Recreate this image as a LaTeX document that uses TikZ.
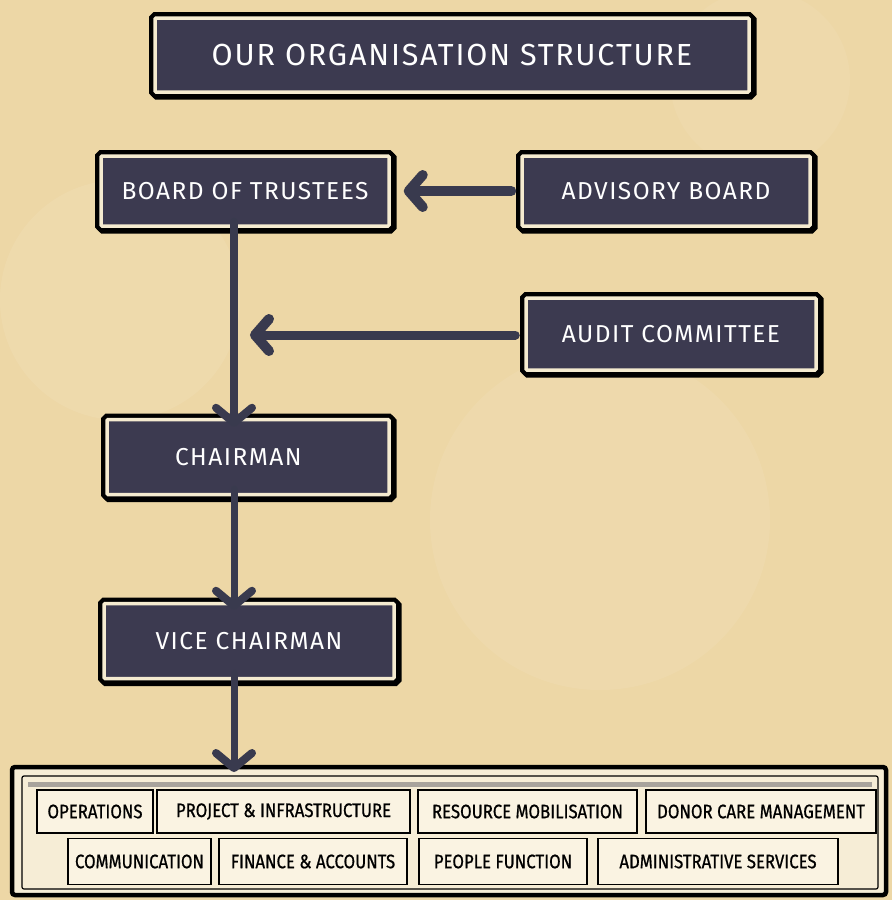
\documentclass[tikz,border=0pt]{standalone}
\usepackage{fontspec}
\setmainfont{Fira Sans}
\newfontfamily\widefont[LetterSpace=6]{Fira Sans}
\newfontfamily\narrowfont[FakeStretch=0.86,FakeBold=0.8]{Fira Sans}
\usetikzlibrary{arrows.meta}
\definecolor{bgtan}{HTML}{EDD7A6}
\definecolor{slate}{HTML}{3C3A50}
\definecolor{cream}{HTML}{F5EBD0}
\definecolor{inkline}{HTML}{393A4E}
\definecolor{cellfill}{HTML}{FAF3E2}
\definecolor{panelfill}{HTML}{F6EDD6}
\definecolor{stripgray}{HTML}{A8A39C}
\begin{document}
\begin{tikzpicture}[x=1pt,y=-1pt,
  chalk/.style={
    preaction={draw=black, line width=12pt, transform canvas={shift={(1.5pt,-1.5pt)}}},
    preaction={draw=black, line width=12pt},
    draw=cream, line width=3.5pt, fill=slate, text=white,
    inner sep=0pt, rounded corners=1pt},
  boxfont/.style={font=\widefont\fontsize{24.5}{27}\selectfont},
  cell/.style={draw=black, line width=1.6pt, fill=cellfill, inner sep=0pt,
    font=\narrowfont\fontsize{19.5}{21}\selectfont},
  flowv/.style={draw=inkline, line width=8pt, line cap=round,
    -{Straight Barb[length=15pt,width=36pt,line width=8pt,round]}},
  flowh/.style={draw=inkline, line width=10pt, line cap=round,
    -{Straight Barb[length=14pt,width=32pt,line width=10pt,round]}}
]
% background
\fill[bgtan] (0,0) rectangle (892,900);
\useasboundingbox (0,0) rectangle (892,900);
\fill[white, opacity=0.08] (120,300) circle (120pt);
\fill[white, opacity=0.07] (600,520) circle (170pt);
\fill[white, opacity=0.06] (760,80) circle (90pt);

% title
\node[chalk, minimum width=594pt, minimum height=74pt,
  font=\widefont\fontsize{30.5}{33}\selectfont] (title) at (452,55) {OUR ORGANISATION STRUCTURE};

% main boxes
\node[chalk, boxfont, minimum width=288pt, minimum height=70pt] (board) at (245,191) {BOARD OF TRUSTEES};
\node[chalk, boxfont, minimum width=288pt, minimum height=70pt] (advisory) at (666,191) {ADVISORY BOARD};
\node[chalk, boxfont, minimum width=290pt, minimum height=72pt] (audit) at (671,334) {AUDIT COMMITTEE};
\node[chalk, boxfont, minimum width=282pt, minimum height=75pt, text width=270pt, align=left] (chair) at (248,457) {\hspace*{62pt}CHAIRMAN};
\node[chalk, boxfont, minimum width=290pt, minimum height=75pt] (vice) at (249,641) {VICE CHAIRMAN};

% spine and free ends
\coordinate (spine) at (234,0);
\coordinate (auditend) at (250,335);

% bottom panel
\draw[black, line width=4.5pt, fill=panelfill, rounded corners=3pt] (12,767) rectangle (886,895);
\coordinate (panel) at (449,767);
\draw[black, line width=1.2pt, rounded corners=2pt] (22,776) rectangle (878,889);
\draw[stripgray, line width=5pt] (28,784) -- (872,784);

% department cells
\node[cell, minimum width=116pt, minimum height=43pt] (ops) at (95,811.5) {OPERATIONS};
\node[cell, minimum width=253pt, minimum height=43pt] (proj) at (283.5,811.5) {PROJECT \& INFRASTRUCTURE};
\node[cell, minimum width=219pt, minimum height=43pt] (res) at (527.5,811.5) {RESOURCE MOBILISATION};
\node[cell, minimum width=230pt, minimum height=43pt] (donor) at (761,811.5) {DONOR CARE MANAGEMENT};
\node[cell, minimum width=143pt, minimum height=46pt] (comm) at (139.5,861.5) {COMMUNICATION};
\node[cell, minimum width=188pt, minimum height=46pt] (fin) at (313,861.5) {FINANCE \& ACCOUNTS};
\node[cell, minimum width=168pt, minimum height=46pt] (people) at (503,861.5) {PEOPLE FUNCTION};
\node[cell, minimum width=240pt, minimum height=46pt] (admin) at (718,861.5) {ADMINISTRATIVE SERVICES};

% connectors
\draw[flowh] ([xshift=-9pt]advisory.west) -- ([xshift=13pt]board.east);
\draw[flowh, line width=9pt] ([xshift=-9pt]audit.west |- auditend) -- (auditend);
\draw[flowv] ([yshift=6pt]board.south -| spine) -- ([yshift=-9pt]chair.north -| spine);
\draw[flowv, line width=7pt] ([yshift=7pt]chair.south -| spine) -- ([yshift=-8pt]vice.north -| spine);
\draw[flowv, line width=7pt] ([yshift=7pt]vice.south -| spine) -- ([yshift=-5pt]panel -| spine);
\end{tikzpicture}
\end{document}
